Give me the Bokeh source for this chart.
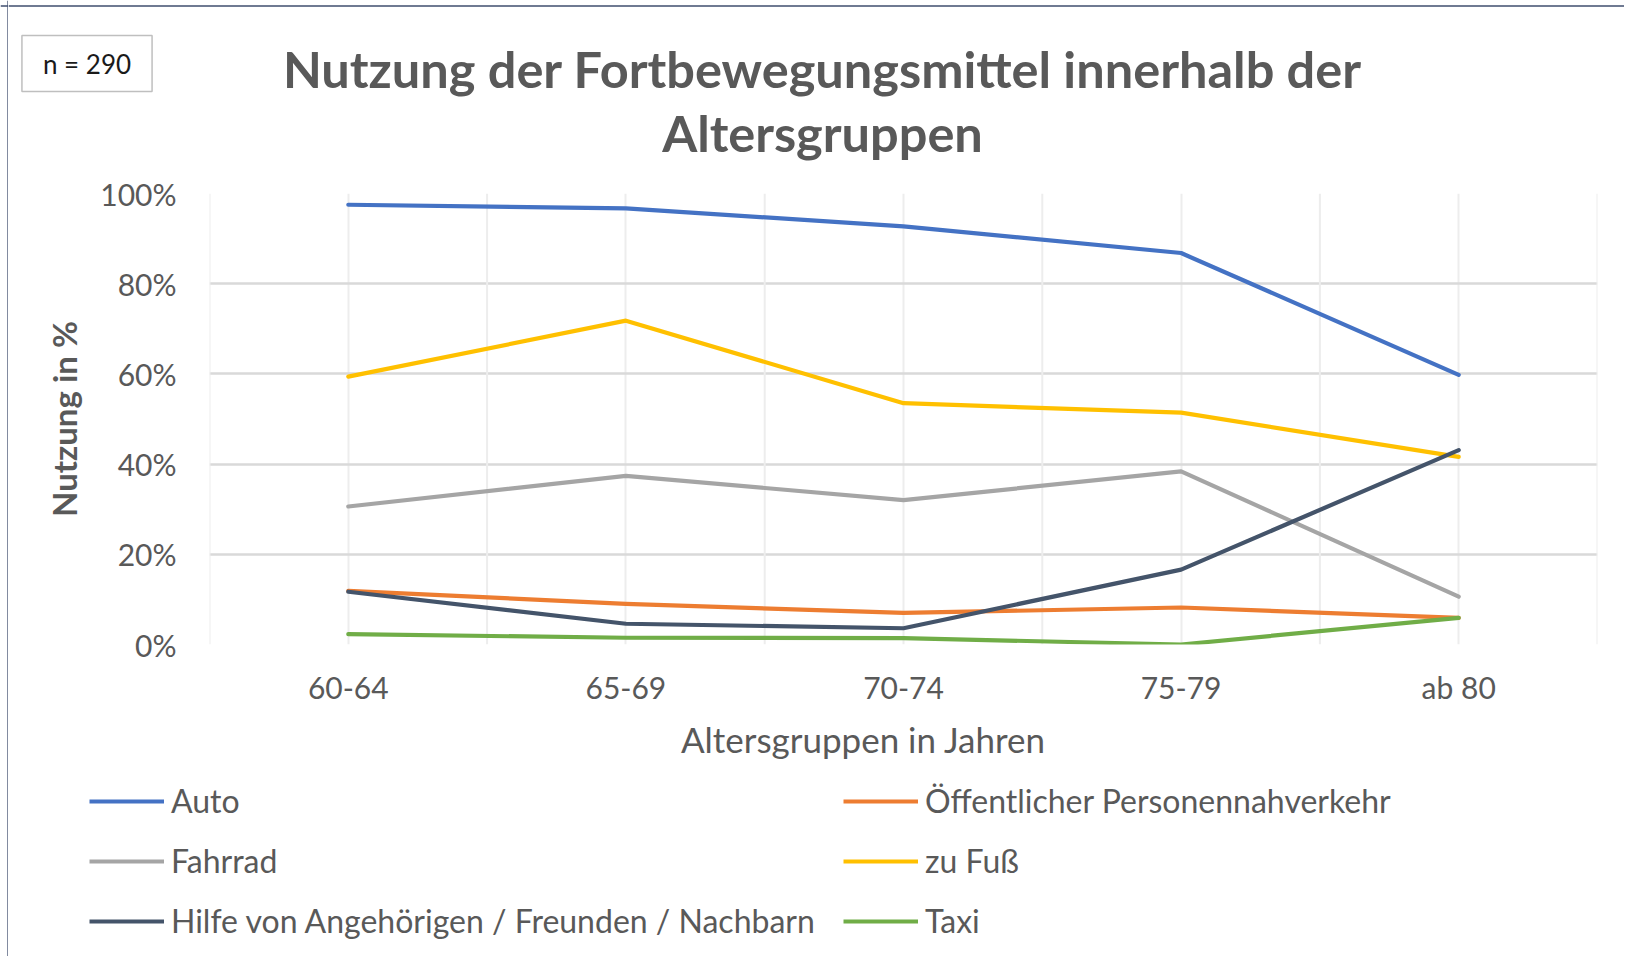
from bokeh.plotting import figure
from bokeh.layouts import row, column
from bokeh.models import (FactorRange, Range1d, Label, Legend, LegendItem, Span,
                          PrintfTickFormatter, FixedTicker)
from bokeh.embed import file_html
from bokeh.resources import INLINE

# ---- data -------------------------------------------------------------
categories = ["60-64", "65-69", "70-74", "75-79", "ab 80"]
auto = [97.5, 96.7, 92.7, 86.8, 59.8]
oepnv = [11.9, 9.0, 7.0, 8.2, 5.9]
fahrrad = [30.6, 37.4, 32.0, 38.4, 10.6]
zu_fuss = [59.4, 71.8, 53.5, 51.4, 41.6]
hilfe = [11.7, 4.6, 3.6, 16.6, 43.1]
taxi = [2.3, 1.5, 1.4, 0.0, 5.9]

series_names = ["Auto", "Öffentlicher Personennahverkehr", "Fahrrad", "zu Fuß",
                "Hilfe von Angehörigen / Freunden / Nachbarn", "Taxi"]
series_values = [auto, oepnv, fahrrad, zu_fuss, hilfe, taxi]
series_colors = ["#4472C4", "#ED7D31", "#A5A5A5", "#FFC000", "#44546A", "#70AD47"]
y_ticks = [0, 20, 40, 60, 80, 100]

title_lines = ["Nutzung der Fortbewegungsmittel innerhalb der", "Altersgruppen"]
x_title = "Altersgruppen in Jahren"
y_title = "Nutzung in %"
n_text = "n = 290"

FONT = "Lato"
GREY = "#595959"
BORDER = "#3F4E6E"
LW = 4.2

TOTAL_W, TOTAL_H = 1624, 956
STRIP_W = 8
TOP_H, MAIN_H = 172, 540
BOT_H = TOTAL_H - TOP_H - MAIN_H
W = TOTAL_W - STRIP_W


def blank(width, height, xr, yr):
    f = figure(width=width, height=height, x_range=xr, y_range=yr,
               output_backend="svg", toolbar_location=None, title=None,
               x_axis_type=None, y_axis_type=None,
               min_border_left=0, min_border_right=0,
               min_border_top=0, min_border_bottom=0)
    f.frame_align = False
    f.outline_line_color = None
    f.grid.visible = False
    f.background_fill_color = "white"
    f.border_fill_color = "white"
    return f


# ---- left strip carrying the outer chart border -------------------------
strip = blank(STRIP_W, TOTAL_H, Range1d(0, STRIP_W), Range1d(TOTAL_H, 0))
strip.add_layout(Span(location=7.5, dimension="height", line_color=BORDER, line_width=1.3))
strip.add_layout(Span(location=5.5, dimension="width", line_color=BORDER, line_width=1.3))

# ---- top: title and n box ---------------------------------------------
top = blank(W, TOP_H, Range1d(STRIP_W, TOTAL_W), Range1d(TOP_H, 0))
top.add_layout(Span(location=5.5, dimension="width", line_color=BORDER, line_width=1.3))
for txt, yy in zip(title_lines, [68, 132]):
    top.add_layout(Label(x=822, y=yy, text=txt, text_align="center",
                         text_baseline="middle", text_font=FONT,
                         text_font_style="bold", text_font_size="50.5px",
                         text_color=GREY))
top.add_layout(Label(x=86.5, y=63, text=n_text, text_align="center",
                     text_baseline="middle", text_font=FONT, text_font_size="26px",
                     text_color="#1a1a1a", border_line_color="#BFBFBF",
                     border_line_width=1.5, background_fill_color="white",
                     padding=dict(x=21, y=12)))

# ---- main chart --------------------------------------------------------
p = figure(width=W, height=MAIN_H, x_range=FactorRange(*categories),
           y_range=Range1d(0, 100), output_backend="svg", toolbar_location=None,
           title=None, min_border_left=201, min_border_right=27,
           min_border_top=193 - TOP_H, min_border_bottom=68)
p.frame_align = False
p.outline_line_color = None
p.background_fill_color = "white"
p.border_fill_color = "white"

for ax in (p.xaxis[0], p.yaxis[0]):
    ax.axis_line_color = None
    ax.major_tick_line_color = None
    ax.minor_tick_line_color = None
    ax.major_label_text_font = FONT
    ax.major_label_text_font_size = "30px"
    ax.major_label_text_color = GREY

p.xaxis.major_label_standoff = 18
p.yaxis.major_label_standoff = 27
p.yaxis.ticker = FixedTicker(ticks=y_ticks)
p.yaxis.formatter = PrintfTickFormatter(format="%d%%")
p.yaxis.axis_label = y_title
p.yaxis.axis_label_text_font = FONT
p.yaxis.axis_label_text_font_style = "bold"
p.yaxis.axis_label_text_font_size = "33px"
p.yaxis.axis_label_text_color = GREY
p.yaxis.axis_label_standoff = 13

p.ygrid.ticker = FixedTicker(ticks=y_ticks)
p.ygrid.grid_line_color = "#D9D9D9"
p.ygrid.grid_line_width = 2.5
p.xgrid.grid_line_color = "#EDEDED"
p.xgrid.grid_line_width = 2
for b in range(len(categories) + 1):
    p.add_layout(Span(location=b, dimension="height", line_color="#EDEDED",
                      line_width=2, level="underlay"))

for name, vals, col in zip(series_names, series_values, series_colors):
    p.line(x=categories, y=vals, line_color=col, line_width=LW,
           line_join="round", line_cap="round")

# ---- bottom: x-axis title and legend ----------------------------------
bot_top = TOP_H + MAIN_H
bot_bottom = TOTAL_H
bot = blank(W, BOT_H, Range1d(STRIP_W, TOTAL_W), Range1d(bot_bottom, bot_top))
bot.add_layout(Label(x=863, y=738, text=x_title, text_align="center",
                     text_baseline="middle", text_font=FONT, text_font_size="35px",
                     text_color=GREY))

# legend key carriers: the series drawn again in this panel, where they fall
# outside the visible range and only lend their line style to the legend
keys = []
for name, vals, col in zip(series_names, series_values, series_colors):
    keys.append(bot.line(x=list(range(len(vals))), y=vals, line_color=col,
                         line_width=LW))


def make_legend(idx, loc):
    items = [LegendItem(label=series_names[i], renderers=[keys[i]]) for i in idx]
    return Legend(items=items, location=loc, orientation="vertical",
                  glyph_width=75, glyph_height=38, label_height=38,
                  label_standoff=7, spacing=21, padding=0, margin=0,
                  border_line_color=None, background_fill_alpha=0,
                  label_text_font=FONT, label_text_font_size="32px",
                  label_text_color=GREY, label_text_baseline="middle")


bot.add_layout(make_legend([0, 2, 4], (89 - STRIP_W, bot_bottom - 940)))
bot.add_layout(make_legend([1, 3, 5], (843 - STRIP_W, bot_bottom - 940)))

layout = row(strip, column(top, p, bot, spacing=0), spacing=0)

open("out.html", "w").write(file_html(layout, INLINE))
